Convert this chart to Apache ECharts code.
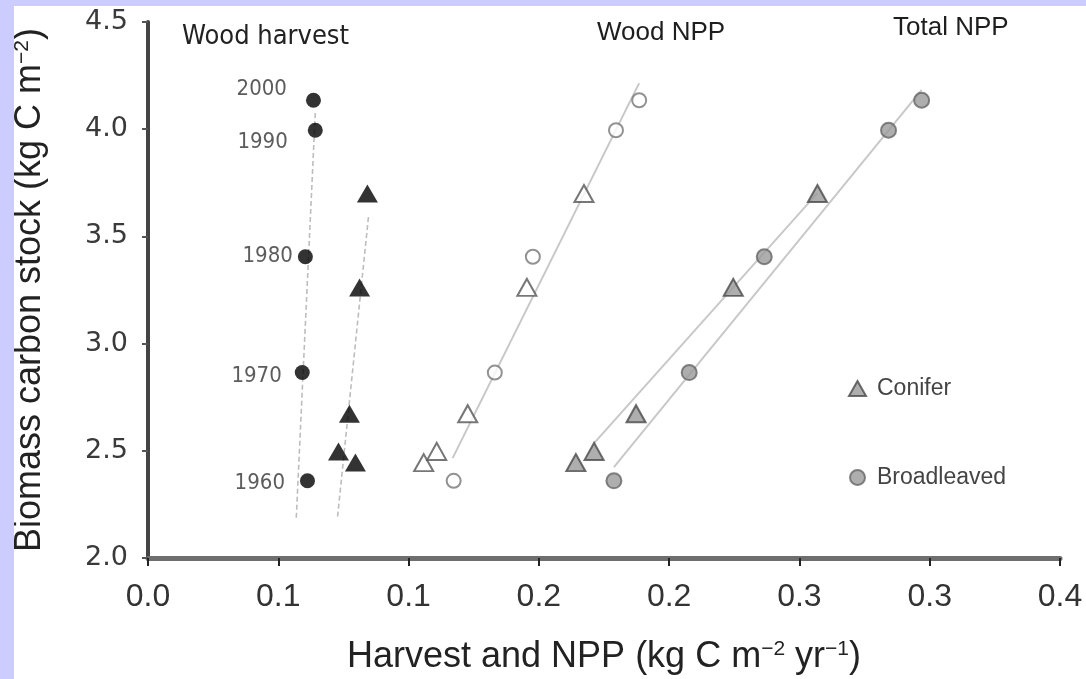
<!DOCTYPE html>
<html>
<head>
<meta charset="utf-8">
<script src="https://cdn.jsdelivr.net/npm/echarts@6/dist/echarts.min.js"></script>
<style>
  html, body { margin: 0; padding: 0; background: #ccccff; width: 1086px; height: 679px; overflow: hidden; }
  #c { position: absolute; left: 14px; top: 6px; width: 1072px; height: 673px; background: #ffffff; }
</style>
</head>
<body>
<div id="c"></div>
<script>
// ---------------- data ----------------
var years = [1960, 1970, 1980, 1990, 2000];
var broadStock = [2.36, 2.865, 3.405, 3.995, 4.135];
var conStock = [2.445, 2.497, 2.673, 3.262, 3.70];

var harvestBroad = [0.0612, 0.0592, 0.0604, 0.0642, 0.0635];
var harvestCon = [0.0796, 0.0731, 0.0773, 0.0812, 0.0842];
var woodNppBroad = [0.1173, 0.1331, 0.1477, 0.1796, 0.1885];
var woodNppCon = [0.1058, 0.1108, 0.1227, 0.1454, 0.1673];
var totalNppBroad = [0.1788, 0.2077, 0.2365, 0.2842, 0.2969];
var totalNppCon = [0.1642, 0.1712, 0.1873, 0.2246, 0.2569];

// fitted lines: [x, y] end points
var harvestBroadLine = [[0.0642, 4.075], [0.0569, 2.187]];
var harvestConLine = [[0.0846, 3.59], [0.0727, 2.187]];
var woodNppLine = [[0.1885, 4.215], [0.1169, 2.466]];
var totalConLine = [[0.1712, 2.536], [0.2569, 3.702]];
var totalBroadLine = [[0.1788, 2.424], [0.2969, 4.183]];

var xTickLabels = ["0.0", "0.1", "0.1", "0.2", "0.2", "0.3", "0.3", "0.4"];

// ---------------- build ----------------
function pts(xs, ys) { return xs.map(function (x, i) { return [x, ys[i]]; }); }

var yearLabelNudge = { 1960: [3, 2], 1970: [5, 4], 1980: [13, 0], 1990: [-2, 12], 2000: [-1, -11] };

var harvestBroadData = harvestBroad.map(function (x, i) {
  return { name: String(years[i]), value: [x, broadStock[i]], label: { offset: yearLabelNudge[years[i]] } };
});

var fitLine = function (data, dashed) {
  return {
    type: 'line', data: data, symbol: 'none', silent: true, z: 1,
    lineStyle: { color: dashed ? '#bdbdbd' : '#c8c8c8', width: dashed ? 1.6 : 2, type: dashed ? [5, 3] : 'solid' }
  };
};

var supStyle = { fontFamily: 'Liberation Sans', fontSize: 21, color: '#222', verticalAlign: 'top', lineHeight: 8 };

var chart = echarts.init(document.getElementById('c'), null, { renderer: 'canvas' });
var option = {
  animation: false,
  grid: { left: 134, right: 26, top: 16, bottom: 121, containLabel: false, outerBoundsMode: 'none' },
  xAxis: {
    type: 'value', min: 0, max: 0.35, interval: 0.05,
    name: 'Harvest and NPP (kg C m{sup|−2} yr{sup|−1})',
    nameLocation: 'middle', nameGap: 81,
    nameTextStyle: {
      fontFamily: 'Liberation Sans', fontSize: 36, color: '#222',
      rich: { sup: supStyle }
    },
    splitLine: { show: false },
    axisLine: { onZero: false, lineStyle: { color: '#6e6e6e', width: 5 } },
    axisTick: { show: true, length: 8, lineStyle: { color: '#222', width: 2 } },
    axisLabel: {
      margin: 23, fontFamily: 'Liberation Sans', fontSize: 32, color: '#333',
      formatter: function (v) { return xTickLabels[Math.round(v / 0.05)]; }
    }
  },
  yAxis: {
    type: 'value', min: 2, max: 4.5, interval: 0.5,
    name: 'Biomass carbon stock (kg C m{sup|−2})',
    nameLocation: 'middle', nameGap: 100, nameRotate: 90,
    nameTextStyle: {
      fontFamily: 'Liberation Sans', fontSize: 36, color: '#222',
      rich: { sup: supStyle }
    },
    splitLine: { show: false },
    axisLine: { show: true, onZero: false, lineStyle: { color: '#444', width: 4 } },
    axisTick: { show: true, length: 6, lineStyle: { color: '#555', width: 2 } },
    axisLabel: {
      margin: 20, fontFamily: 'DejaVu Sans', fontSize: 27, color: '#3a3a3a',
      formatter: function (v) { return v.toFixed(1); }
    }
  },
  legend: {
    data: [{ name: 'Conifer', icon: 'triangle' }, { name: 'Broadleaved', icon: 'circle' }],
    orient: 'vertical', left: 829, top: 366,
    itemWidth: 17, itemHeight: 15, itemGap: 66,
    selectedMode: false,
    textStyle: { fontFamily: 'Liberation Sans', fontSize: 23, color: '#444', padding: [0, 0, 0, 6] }
  },
  graphic: [
    { type: 'text', x: 168, y: 31, style: { text: 'Wood harvest', font: '27px "DejaVu Sans Condensed", "DejaVu Sans"', fill: '#222', verticalAlign: 'middle' } },
    { type: 'text', x: 583, y: 27, style: { text: 'Wood NPP', font: '26px "Liberation Sans"', fill: '#1e1e1e', verticalAlign: 'middle' } },
    { type: 'text', x: 879, y: 22, style: { text: 'Total NPP', font: '26px "Liberation Sans"', fill: '#1e1e1e', verticalAlign: 'middle' } }
  ],
  series: [
    fitLine(harvestBroadLine, true),
    fitLine(harvestConLine, true),
    fitLine(woodNppLine, false),
    fitLine(totalConLine, false),
    fitLine(totalBroadLine, false),
    {
      name: 'Harvest broadleaved', type: 'scatter', z: 3,
      symbol: 'circle', symbolSize: 15,
      itemStyle: { color: '#000' },
      label: {
        show: true, position: 'left', distance: 18, formatter: '{b}',
        fontFamily: '"DejaVu Sans Condensed", "DejaVu Sans"', fontSize: 22, color: '#333'
      },
      data: harvestBroadData
    },
    {
      name: 'Harvest conifer', type: 'scatter', z: 3,
      symbol: 'triangle', symbolSize: [21, 18],
      itemStyle: { color: '#000' },
      data: pts(harvestCon, conStock)
    },
    {
      name: 'Wood NPP conifer', type: 'scatter', z: 3,
      symbol: 'triangle', symbolSize: [19, 17],
      itemStyle: { color: '#fff', borderColor: '#555', borderWidth: 2 },
      data: pts(woodNppCon, conStock)
    },
    {
      name: 'Wood NPP broadleaved', type: 'scatter', z: 3,
      symbol: 'circle', symbolSize: 14,
      itemStyle: { color: '#fff', borderColor: '#777', borderWidth: 2 },
      data: pts(woodNppBroad, broadStock)
    },
    {
      name: 'Conifer', type: 'scatter', z: 3,
      symbol: 'triangle', symbolSize: [19, 17],
      itemStyle: { color: '#9a9a9a', borderColor: '#4a4a4a', borderWidth: 2 },
      data: pts(totalNppCon, conStock)
    },
    {
      name: 'Broadleaved', type: 'scatter', z: 3,
      symbol: 'circle', symbolSize: 15,
      itemStyle: { color: '#9a9a9a', borderColor: '#666', borderWidth: 2 },
      data: pts(totalNppBroad, broadStock)
    }
  ]
};
chart.setOption(option);
</script>
</body>
</html>
